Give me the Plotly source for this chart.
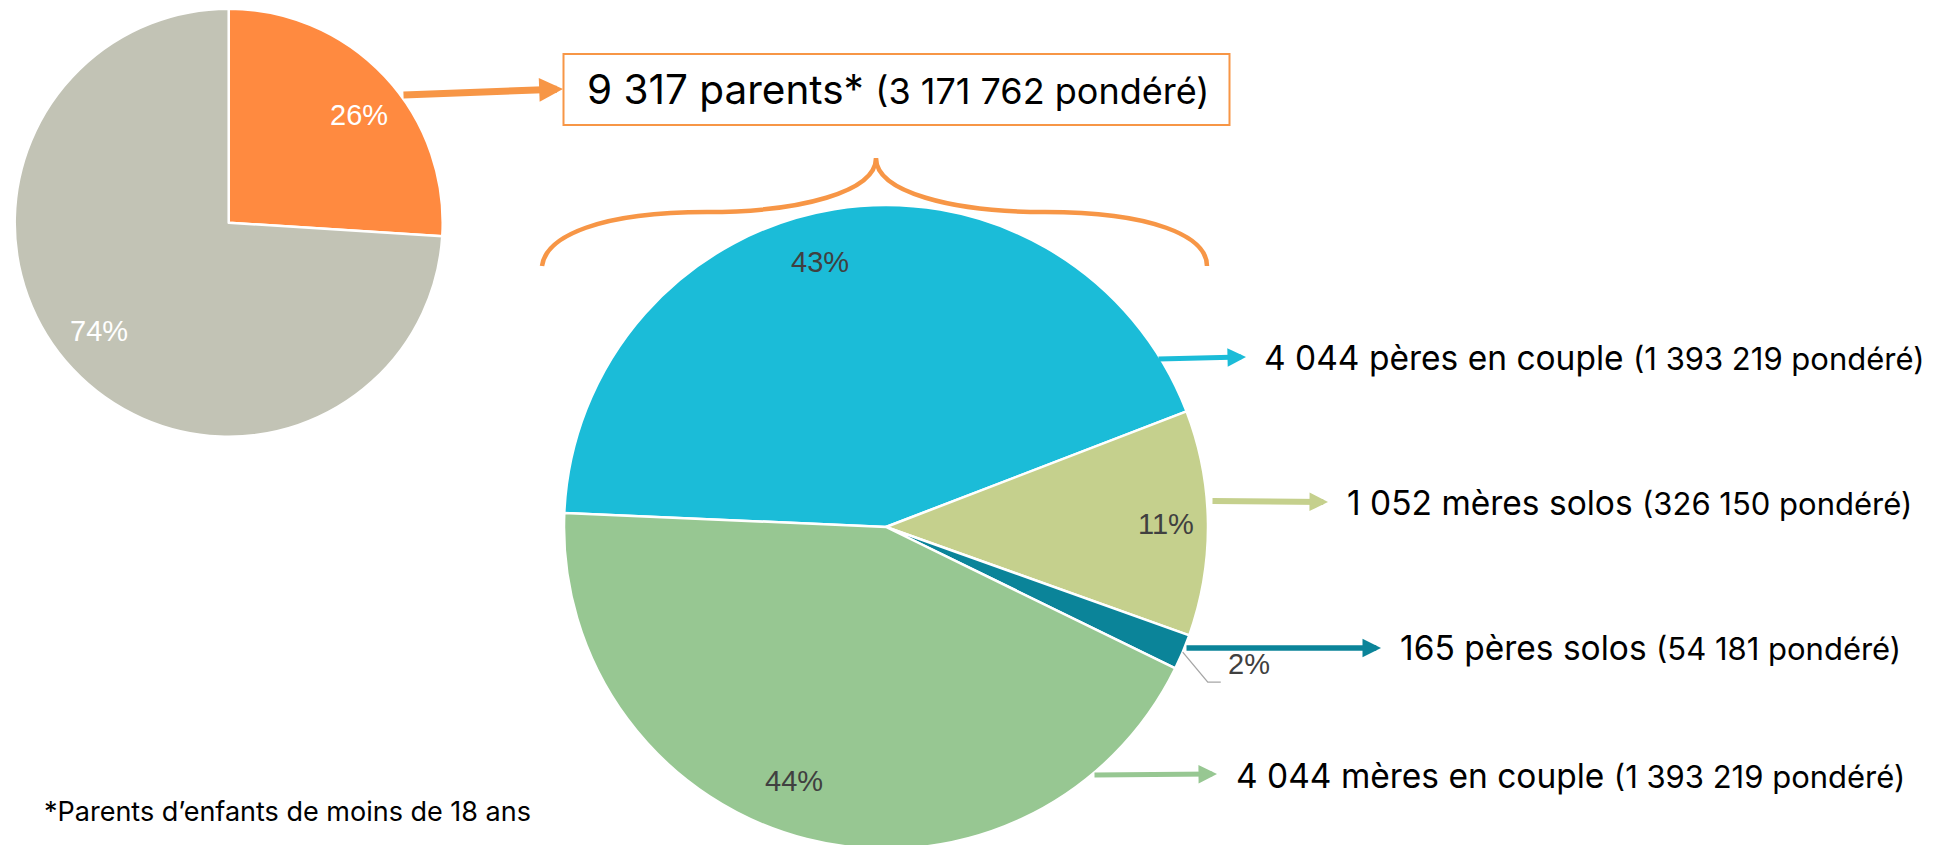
import math
import plotly.graph_objects as go

# ---------------- data ----------------
outer_labels = ["Parents d'enfants de moins de 18 ans", "Autres"]
outer_values = [26, 74]
outer_pct_text = ["26%", "74%"]

inner_names = ["pères en couple", "mères solos", "pères solos", "mères en couple"]
inner_counts = [4044, 1052, 165, 4044]
inner_weighted = [1393219, 326150, 54181, 1393219]
inner_pct_text = ["43%", "11%", "2%", "44%"]

total_parents = 9317
total_weighted = 3171762
footnote = "*Parents d’enfants de moins de 18 ans"

# ---------------- style ----------------
W, H = 1941, 850
outer_colors = ["#FF8A40", "#C2C3B5"]
inner_colors = ["#1BBCD8", "#C5D08D", "#0B8499", "#97C792"]
arrow_orange = "#F79646"

SMALL_C, SMALL_R = (228.7, 222.7), 214
BIG_C, BIG_R = (886.0, 527.0), 322
BIG_ROT = -87.5

LBL_FONT = "Inter, 'Liberation Sans', Arial, sans-serif"
PCT_FONT = "'Liberation Sans', Arial, sans-serif"


def fmt(n):
    return f"{n:,}".replace(",", " ")


def px(x):
    return x / W


def py(y):
    return 1 - y / H


def domain(c, r):
    cx, cy = c
    return dict(x=[px(cx - r), px(cx + r)], y=[py(cy + r), py(cy - r)])


def slice_point(values, i, rot, c, r, frac, offset=0.0):
    tot = float(sum(values))
    start = rot + 360.0 * sum(values[:i]) / tot
    mid = math.radians(start + 180.0 * values[i] / tot + offset)
    return c[0] + frac * r * math.sin(mid), c[1] - frac * r * math.cos(mid)


fig = go.Figure()
fig.add_trace(go.Pie(
    labels=outer_labels, values=outer_values, sort=False, direction="clockwise",
    rotation=0, domain=domain(SMALL_C, SMALL_R), textinfo="none", hoverinfo="none",
    marker=dict(colors=outer_colors, line=dict(color="white", width=2.5)),
    showlegend=False,
))
fig.add_trace(go.Pie(
    labels=inner_names, values=inner_counts, sort=False, direction="clockwise",
    rotation=BIG_ROT, domain=domain(BIG_C, BIG_R), textinfo="none", hoverinfo="none",
    marker=dict(colors=inner_colors, line=dict(color="white", width=2.5)),
    showlegend=False,
))

annotations = []
shapes = []

# percentage labels of the small pie
for i, t in enumerate(outer_pct_text):
    x, y = slice_point(outer_values, i, 0, SMALL_C, SMALL_R, 0.79, 3.5)
    annotations.append(dict(x=px(x), y=py(y), xref="paper", yref="paper", text=t,
                            showarrow=False, font=dict(family=PCT_FONT, size=29, color="white"),
                            xanchor="center", yanchor="middle"))

# percentage labels of the big pie
big_lbl = [(0.847, -4.7), (0.87, 0.0), (1.204, -2.2), (0.84, 5.6)]
for i, t in enumerate(inner_pct_text):
    frac, off = big_lbl[i]
    x, y = slice_point(inner_counts, i, BIG_ROT, BIG_C, BIG_R, frac, off)
    annotations.append(dict(x=px(x), y=py(y), xref="paper", yref="paper", text=t,
                            showarrow=False, font=dict(family=PCT_FONT, size=29, color="#404040"),
                            xanchor="center", yanchor="middle"))
    if i == 2:
        sx, sy = slice_point(inner_counts, i, BIG_ROT, BIG_C, BIG_R, 1.0, 0.0)
        ex, ey = x - 41, y + 18.5
        shapes.append(dict(type="path", xref="paper", yref="paper",
                           path=f"M {px(sx)},{py(sy)} L {px(ex)},{py(ey)} L {px(ex + 13)},{py(ey)}",
                           line=dict(color="#A6A6A6", width=1.3)))

# arrows (tail -> tip), colour, width
arrows = [
    ((402, 95), (563, 89), arrow_orange, 7),
    ((1157, 359), (1246, 357), inner_colors[0], 5),
    ((1211, 501), (1328, 502), inner_colors[1], 6),
    ((1185, 648), (1381, 648), inner_colors[2], 5.5),
    ((1093, 775), (1217, 774), inner_colors[3], 5),
]
for (tx, ty), (hx, hy), col, w in arrows:
    annotations.append(dict(x=px(hx), y=py(hy), xref="paper", yref="paper",
                            ax=tx - hx, ay=ty - hy, axref="pixel", ayref="pixel",
                            text="", showarrow=True, arrowhead=2,
                            arrowsize=3.7 / w if w < 7 else 0.68,
                            arrowwidth=w, arrowcolor=col, standoff=0))

# category labels
label_pos = [(1262, 358), (1345, 503), (1398, 648), (1234, 776)]
for i, name in enumerate(inner_names):
    x, y = label_pos[i]
    txt = (f"{fmt(inner_counts[i])} {name} "
           f"<span style='font-size:31px'>({fmt(inner_weighted[i])} pondéré)</span>")
    annotations.append(dict(x=px(x), y=py(y), xref="paper", yref="paper", text=txt,
                            showarrow=False, font=dict(family=LBL_FONT, size=33.5, color="black"),
                            xanchor="left", yanchor="middle"))

# box with total
shapes.append(dict(type="rect", xref="paper", yref="paper",
                   x0=px(563.5), x1=px(1229.5), y0=py(125), y1=py(54),
                   line=dict(color=arrow_orange, width=2), fillcolor="white", layer="below"))
annotations.append(dict(x=px(898), y=py(90), xref="paper", yref="paper",
                        text=(f"{fmt(total_parents)} parents* "
                              f"<span style='font-size:36px'>({fmt(total_weighted)} pondéré)</span>"),
                        showarrow=False, font=dict(family=LBL_FONT, size=40.5, color="black"),
                        xanchor="center", yanchor="middle"))

# curly brace
brace = ("M 542,266 C 546,236 600,212 707,212 C 800,212 876,192 876,158 "
         "C 876,192 952,212 1045,212 C 1152,212 1207,236 1207,266")


def conv_path(p):
    out = []
    for tok in p.split():
        if "," in tok:
            a, b = tok.split(",")
            out.append(f"{px(float(a)):.5f},{py(float(b)):.5f}")
        else:
            out.append(tok)
    return " ".join(out)


shapes.append(dict(type="path", xref="paper", yref="paper", path=conv_path(brace),
                   line=dict(color=arrow_orange, width=4.5)))

# footnote
annotations.append(dict(x=px(42), y=py(811), xref="paper", yref="paper", text=footnote,
                        showarrow=False, font=dict(family=LBL_FONT, size=27, color="black"),
                        xanchor="left", yanchor="middle"))

fig.update_layout(
    width=W, height=H, margin=dict(l=0, r=0, t=0, b=0),
    paper_bgcolor="white", plot_bgcolor="white",
    annotations=annotations, shapes=shapes, showlegend=False,
)

fig.write_html(
    "out.html",
    config={"displayModeBar": False},
    post_script=("document.body.style.margin='0';document.body.style.overflow='hidden';"
                 "document.documentElement.style.overflow='hidden';"),
)
